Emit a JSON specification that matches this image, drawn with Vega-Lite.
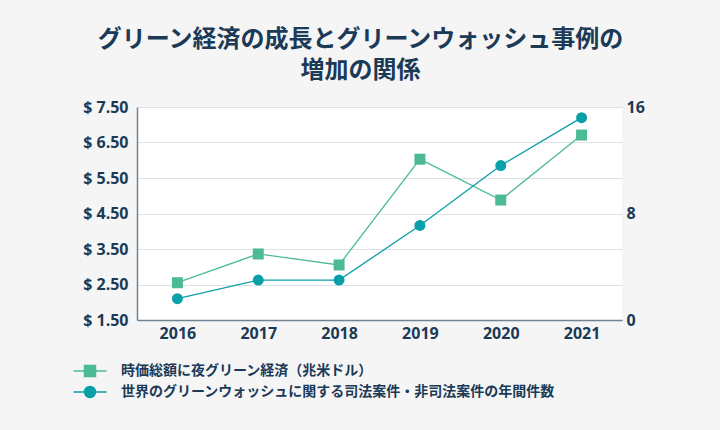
{
  "$schema": "https://vega.github.io/schema/vega-lite/v6.json",
  "autosize": {"type": "none"},
  "width": 485,
  "height": 213,
  "padding": {"left": 137, "top": 107, "right": 98, "bottom": 110},
  "background": "#f5f5f5",
  "title": {
    "text": ["グリーン経済の成長とグリーンウォッシュ事例の", "増加の関係"],
    "font": "Noto Sans CJK JP",
    "fontSize": 24,
    "fontWeight": "bold",
    "color": "#1b3a57",
    "anchor": "middle",
    "dx": -19,
    "offset": 16,
    "lineHeight": 31
  },
  "data": {
    "values": [
      {"year": "2016", "value": 2.55, "cases": 1.6},
      {"year": "2017", "value": 3.36, "cases": 3.0},
      {"year": "2018", "value": 3.05, "cases": 3.0},
      {"year": "2019", "value": 6.03, "cases": 7.1},
      {"year": "2020", "value": 4.88, "cases": 11.6},
      {"year": "2021", "value": 6.71, "cases": 15.2}
    ]
  },
  "encoding": {
    "x": {
      "field": "year",
      "type": "ordinal",
      "scale": {"type": "point", "padding": 0.5},
      "axis": {"labelAngle": 0, "labelPadding": 5, "grid": false, "domainWidth": 1.5}
    }
  },
  "layer": [
    {
      "encoding": {
        "y": {
          "field": "value",
          "type": "quantitative",
          "scale": {"domain": [1.5, 7.5], "zero": false, "nice": false},
          "axis": {
            "orient": "left",
            "values": [1.5, 2.5, 3.5, 4.5, 5.5, 6.5, 7.5],
            "labelExpr": "'$ ' + format(datum.value, '.2f')",
            "labelPadding": 9,
            "grid": true,
            "domainWidth": 1.5
          }
        },
        "color": {
          "datum": "時価総額に夜グリーン経済（兆米ドル）",
          "type": "nominal",
          "scale": {
            "domain": ["時価総額に夜グリーン経済（兆米ドル）", "世界のグリーンウォッシュに関する司法案件・非司法案件の年間件数"],
            "range": ["#4cbb93", "#0a9fa9"]
          },
          "legend": {
            "orient": "none",
            "legendX": -54,
            "legendY": 257,
            "direction": "vertical",
            "title": null,
            "symbolSize": 121,
            "labelOffset": 24,
            "rowPadding": 3,
            "labelFont": "Noto Sans CJK JP",
            "labelFontSize": 14,
            "labelFontWeight": "bold",
            "labelColor": "#1b3a57",
            "labelLimit": 600,
            "encode": {
              "symbols": {
                "update": {
                  "shape": {"signal": "datum.value === '時価総額に夜グリーン経済（兆米ドル）' ? 'M-3,0H3M-1,-1H1V1H-1Z' : 'M-3,0H3M1,0A1,1,0,1,1,-1,0A1,1,0,1,1,1,0Z'"},
                  "fill": {"signal": "datum.value === '時価総額に夜グリーン経済（兆米ドル）' ? '#4cbb93' : '#0a9fa9'"},
                  "stroke": {"signal": "datum.value === '時価総額に夜グリーン経済（兆米ドル）' ? '#4cbb93' : '#0a9fa9'"},
                  "strokeWidth": {"value": 1.5},
                  "opacity": {"value": 1},
                  "fillOpacity": {"value": 1}
                }
              }
            }
          }
        }
      },
      "layer": [
        {"mark": {"type": "line", "strokeWidth": 1.3}},
        {"mark": {"type": "point", "shape": "square", "filled": true, "size": 121, "opacity": 1}}
      ]
    },
    {
      "encoding": {
        "y": {
          "field": "cases",
          "type": "quantitative",
          "scale": {"domain": [0, 16], "nice": false},
          "axis": {
            "orient": "right",
            "values": [0, 8, 16],
            "labelPadding": 4,
            "grid": false,
            "domain": false
          }
        },
        "color": {"datum": "世界のグリーンウォッシュに関する司法案件・非司法案件の年間件数", "type": "nominal"}
      },
      "layer": [
        {"mark": {"type": "line", "strokeWidth": 1.3}},
        {"mark": {"type": "point", "shape": "circle", "filled": true, "size": 120, "opacity": 1}}
      ]
    }
  ],
  "resolve": {"scale": {"y": "independent"}},
  "config": {
    "view": {"fill": "white", "stroke": null},
    "axis": {
      "labelFont": "Open Sans",
      "labelFontWeight": "bold",
      "labelFontSize": 16,
      "labelColor": "#1b3a57",
      "ticks": false,
      "title": null,
      "domainColor": "#6f8394",
      "gridColor": "#dce2e7",
      "gridWidth": 1.2
    }
  }
}
